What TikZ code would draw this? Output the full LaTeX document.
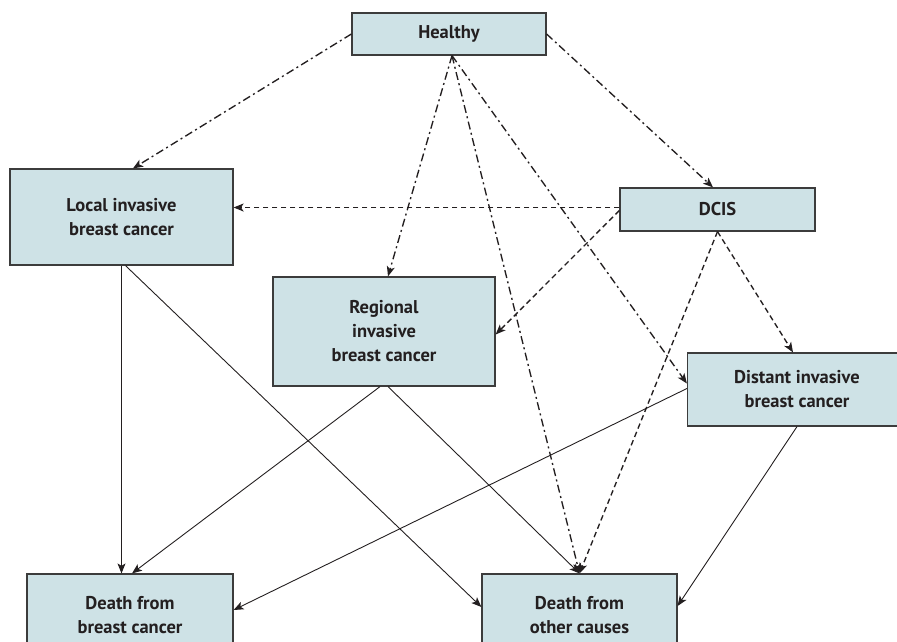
\documentclass[tikz,border=0pt]{standalone}
\usepackage{fontspec}
\setmainfont{PT Sans}
\usetikzlibrary{arrows.meta,calc}
\definecolor{boxfill}{RGB}{206,226,230}
\definecolor{boxline}{RGB}{60,60,60}
\definecolor{ink}{RGB}{35,31,32}
\begin{document}
\begin{tikzpicture}[x=1pt,y=-1pt,
  box/.style={draw=boxline, line width=1.2pt, fill=boxfill, inner sep=0pt, align=center,
    font=\fontsize{18.5}{24}\selectfont\bfseries, text=ink},
  tip/.style={-{Stealth[length=10pt,width=8pt,inset=2.5pt]}},
  dd/.style={tip, line width=1.35pt, dash pattern=on 8pt off 3.5pt on 2pt off 3.5pt, draw=ink},
  ds/.style={tip, line width=1.35pt, dash pattern=on 5.5pt off 3.5pt, draw=ink},
  sl/.style={tip, line width=0.9pt, draw=ink}]
\useasboundingbox (0,0) rectangle (897,641);

\node[box, minimum width=194pt, minimum height=42pt] (healthy) at (449,34) {Healthy};
\node[box, minimum width=223pt, minimum height=96pt] (local) at (121.5,217) {Local invasive\\breast cancer};
\node[box, minimum width=195pt, minimum height=43pt] (dcis) at (717.5,209.5) {DCIS};
\node[box, minimum width=222pt, minimum height=109pt] (regional) at (384,331.5) {Regional\\invasive\\breast cancer};
\node[box, minimum width=219pt, minimum height=73pt] (distant) at (797,389.5) {Distant invasive\\breast cancer};
\node[box, minimum width=206pt, minimum height=82pt] (bc) at (130,615) {Death from\\breast cancer};
\node[box, minimum width=195pt, minimum height=82pt] (other) at (579.5,615) {Death from\\other causes};

% dash-dot from Healthy
\draw[dd] (healthy.west) -- ([xshift=11.5pt]local.north);
\draw[dd] ([xshift=3pt]healthy.south) -- ([xshift=4pt]regional.north);
\draw[dd] ([xshift=3pt]healthy.south) -- (other.north);
\draw[dd] ([xshift=3pt]healthy.south) -- ([yshift=6pt]distant.west);
\draw[dd] (healthy.east) -- ([xshift=-4.5pt]dcis.north);

% dashed from DCIS
\coordinate (dw) at ([yshift=2pt]dcis.west);
\draw[ds] (dw) -- (dw -| local.east);
\draw[ds] ([yshift=-1pt]dcis.west) -- ([yshift=-3pt]regional.east);
\draw[ds] (dcis.south) -- (other.north);
\draw[ds] (dcis.south) -- ([xshift=-4pt]distant.north);

% solid
\draw[sl] (local.south) -- (local.south |- bc.north);
\draw[sl] ([xshift=4pt]local.south) -- ([yshift=8pt]other.west);
\draw[sl] ([xshift=-4pt]regional.south) -- ([xshift=2pt]bc.north);
\draw[sl] ([xshift=4pt]regional.south) -- (other.north);
\draw[sl] ([yshift=1pt]distant.west) -- ([yshift=5pt]bc.east);
\draw[sl] (distant.south) -- ([yshift=9pt]other.east);
\end{tikzpicture}
\end{document}
